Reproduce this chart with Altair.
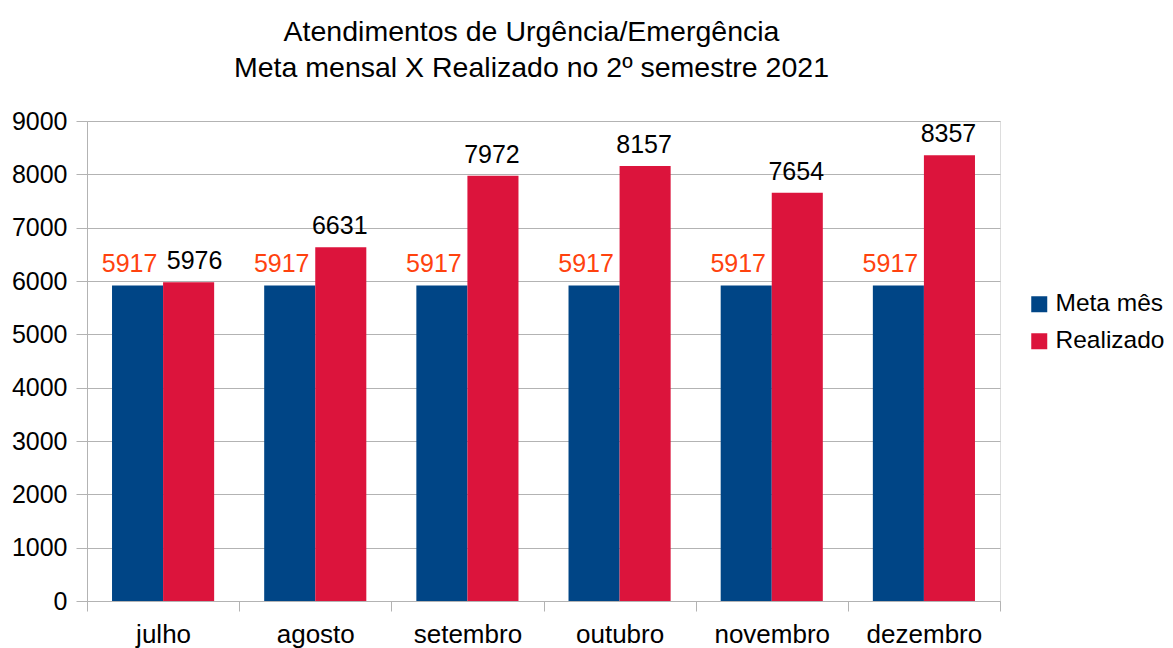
import altair as alt
import pandas as pd

months = ["julho", "agosto", "setembro", "outubro", "novembro", "dezembro"]
series = ["Meta mês", "Realizado"]
meta = [5917, 5917, 5917, 5917, 5917, 5917]
realizado = [5976, 6631, 7972, 8157, 7654, 8357]
y_ticks = [0, 1000, 2000, 3000, 4000, 5000, 6000, 7000, 8000, 9000]

rows = []
for m, a, b in zip(months, meta, realizado):
    rows.append({"mes": m, "serie": series[0], "valor": a})
    rows.append({"mes": m, "serie": series[1], "valor": b})
df = pd.DataFrame(rows)

FONT = "Liberation Sans"
GRAY = "#b3b3b3"

x_enc = alt.X("mes:N", sort=months, title=None,
              scale=alt.Scale(paddingInner=0, paddingOuter=0),
              axis=alt.Axis(labelAngle=0, labelFontSize=26, labelFont=FONT,
                            labelColor="black", tickBand="extent", tickSize=10,
                            tickColor=GRAY, domainColor=GRAY, labelPadding=31,
                            labelBaseline="alphabetic"))
xoff = alt.XOffset("serie:N", sort=series,
                   scale=alt.Scale(paddingInner=0, paddingOuter=0.49))
y_enc = alt.Y("valor:Q", title=None,
              scale=alt.Scale(domain=[0, 9000], nice=False),
              axis=alt.Axis(values=y_ticks, labelFontSize=25, labelFont=FONT,
                            labelColor="black", grid=True, gridColor=GRAY,
                            tickColor=GRAY, tickSize=11, domainColor=GRAY,
                            labelPadding=9, format="d"))

bars = alt.Chart(df).mark_bar().encode(
    x=x_enc, xOffset=xoff, y=y_enc,
    color=alt.Color("serie:N", sort=series,
                    scale=alt.Scale(domain=series, range=["#004586", "#dc143c"]),
                    legend=alt.Legend(title=None, orient="none", legendX=940, legendY=171,
                                      symbolType="square", symbolSize=256,
                                      symbolStrokeWidth=0,
                                      labelFontSize=24.5, labelFont=FONT,
                                      labelColor="black", rowPadding=12,
                                      labelOffset=4, padding=0)),
)


def text_layer(flt, dx, color):
    return alt.Chart(df).transform_filter(flt).mark_text(
        baseline="middle", dy=-21, dx=dx, fontSize=25, font=FONT, color=color
    ).encode(
        x=alt.X("mes:N", sort=months),
        xOffset=alt.XOffset("serie:N", sort=series),
        y="valor:Q",
        text=alt.Text("valor:Q", format="d"),
    )


meta_labels = text_layer(alt.datum.serie == "Meta mês", -8, "#ff420e")
real_labels_first = text_layer((alt.datum.serie == "Realizado") & (alt.datum.mes == "julho"), 6, "black")
real_labels = text_layer((alt.datum.serie == "Realizado") & (alt.datum.mes != "julho"), -1, "black")

chart = alt.layer(bars, meta_labels, real_labels_first, real_labels).properties(
    width=913, height=480,
    autosize=alt.AutoSizeParams(type="none"),
    padding={"left": 79, "top": 113, "right": 165, "bottom": 47},
    title=alt.TitleParams(
        text=["Atendimentos de Urgência/Emergência",
              "Meta mensal X Realizado no 2º semestre 2021"],
        fontSize=28.5, font=FONT, fontWeight="normal", color="black",
        anchor="middle", frame="group", dx=-12, lineHeight=36, offset=4,
        baseline="alphabetic"),
).configure_view(stroke=GRAY).configure(background="white")

chart.save("out.html", embed_options={"renderer": "svg", "actions": False})
